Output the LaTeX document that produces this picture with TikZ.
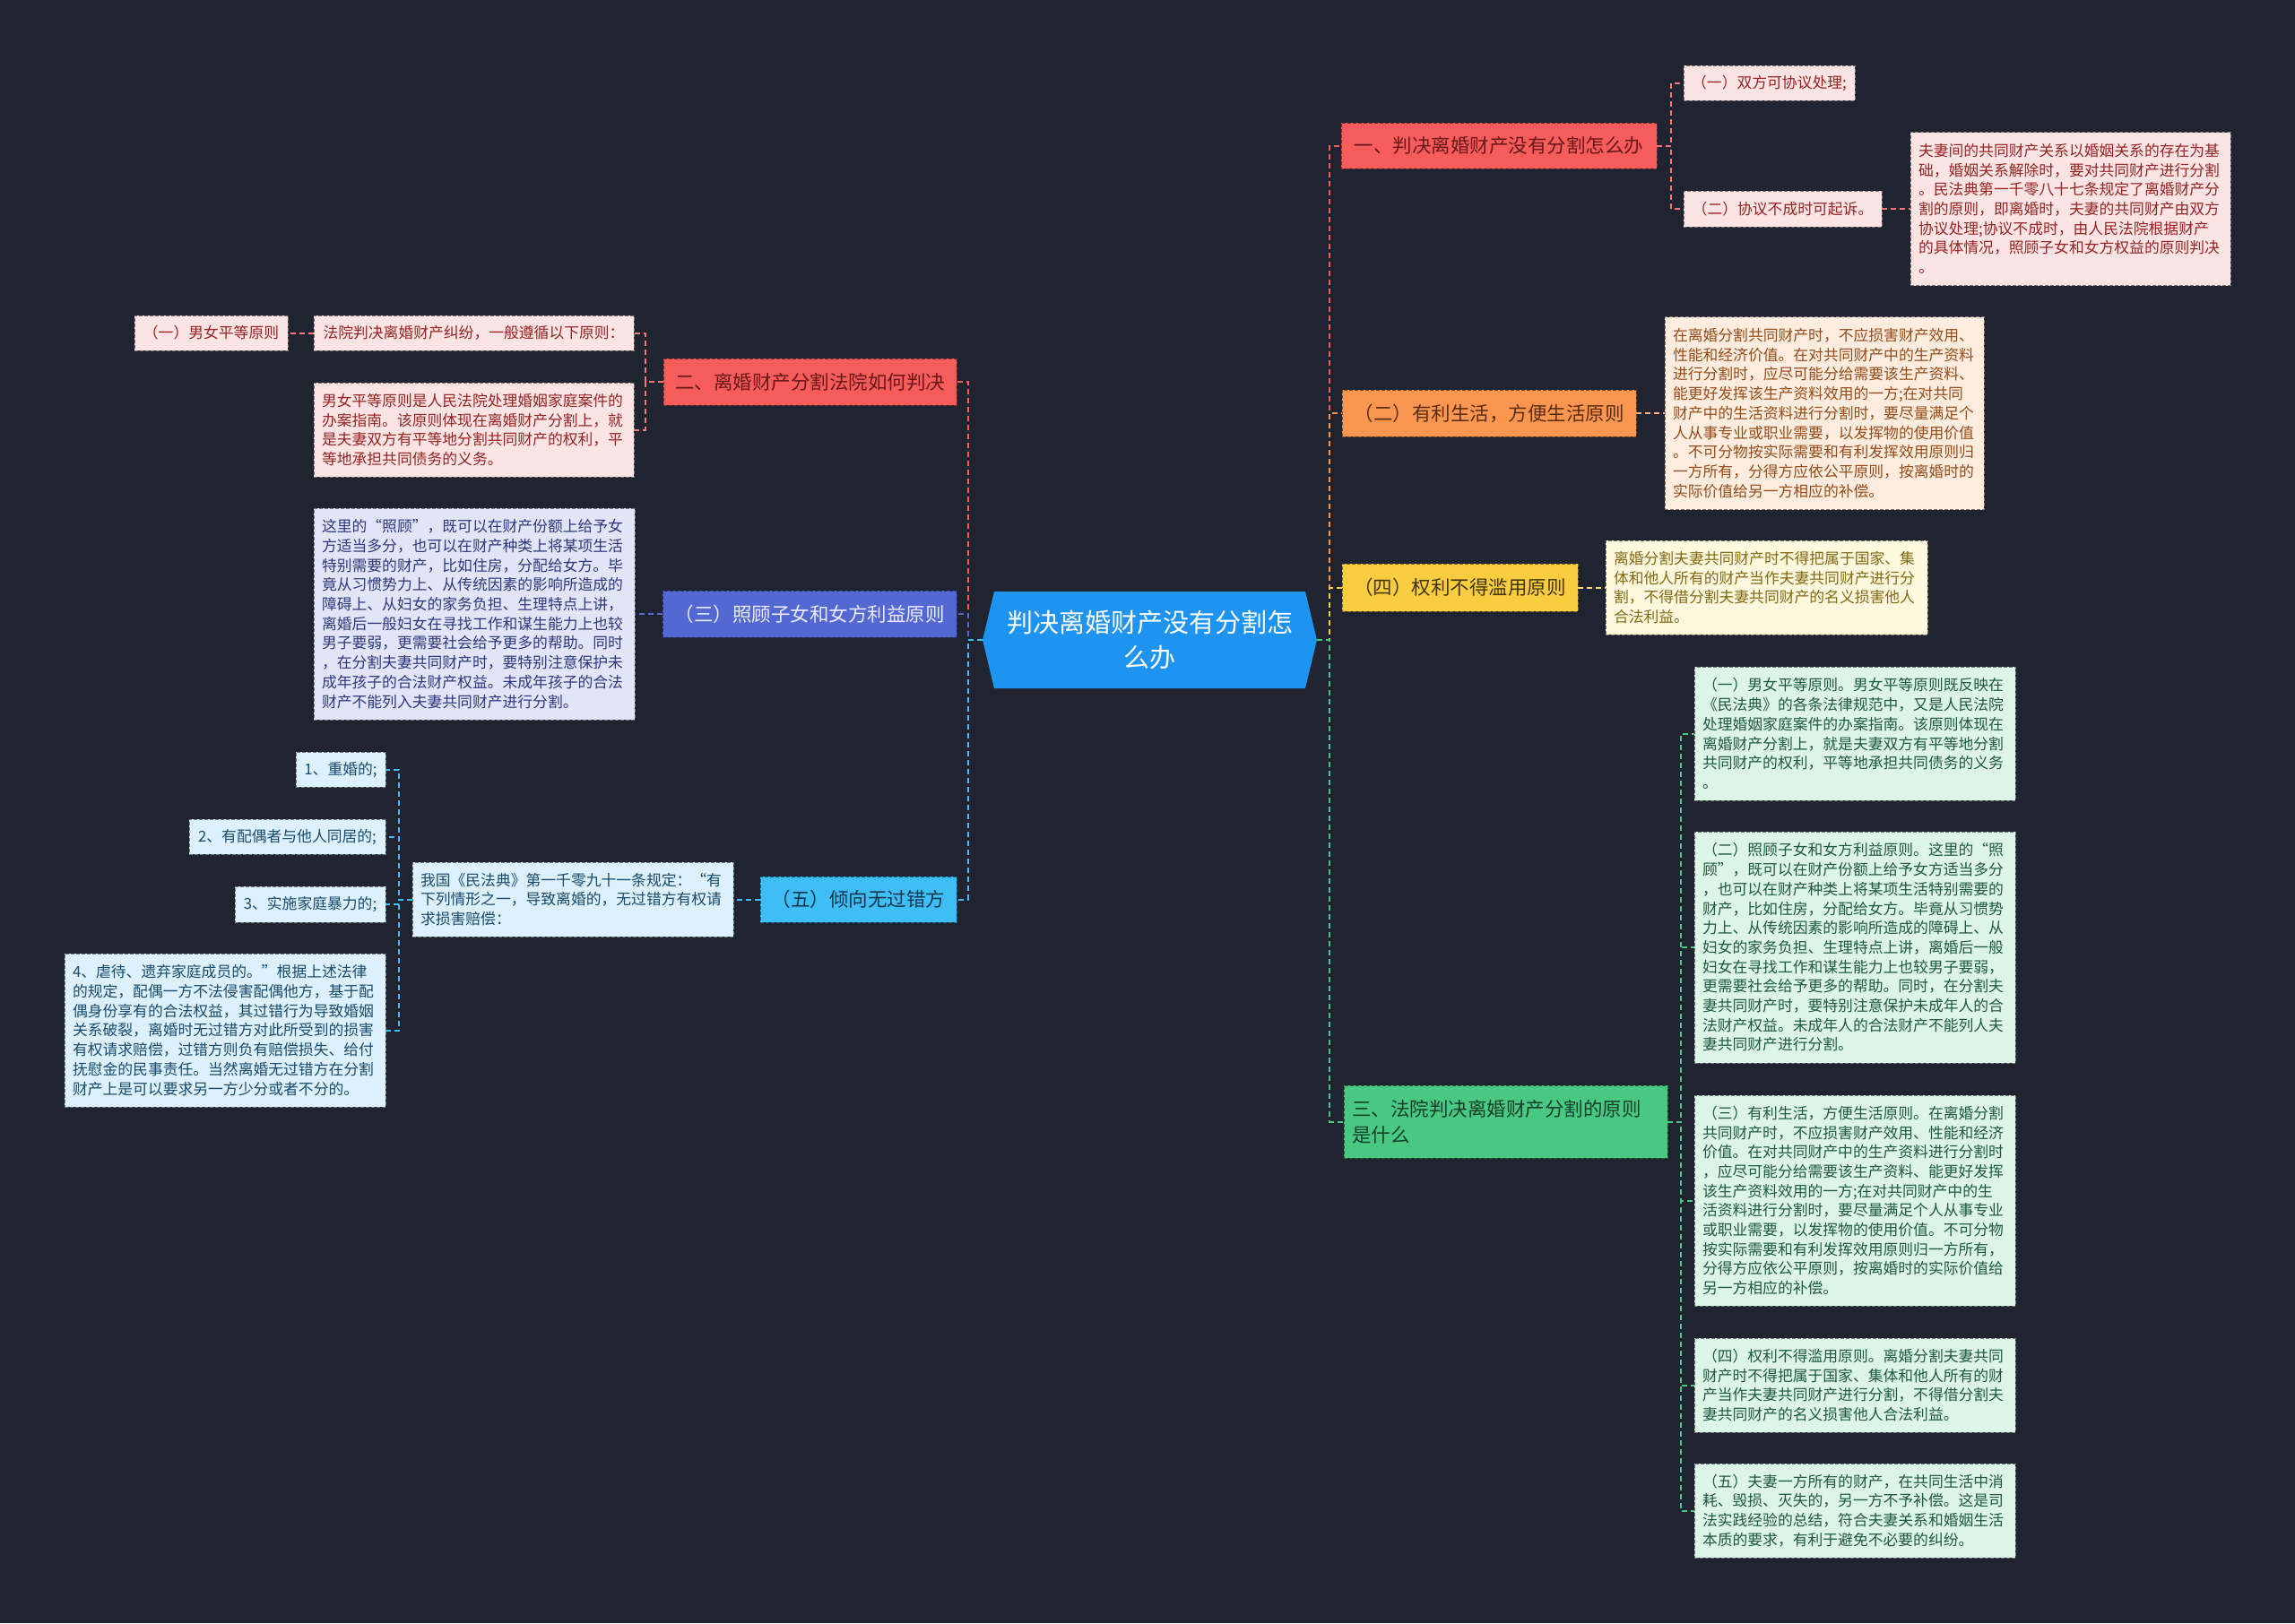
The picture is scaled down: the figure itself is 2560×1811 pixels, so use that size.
\documentclass[tikz,border=0pt]{standalone}
\usepackage{fontspec}
\setmainfont{Noto Sans CJK SC}
\usetikzlibrary{shapes.symbols}

\definecolor{bgdark}{RGB}{32,36,48}
\definecolor{rootblue}{RGB}{30,148,240}
\definecolor{tred}{RGB}{246,92,92}
\definecolor{torange}{RGB}{250,150,80}
\definecolor{tyellow}{RGB}{250,205,65}
\definecolor{tgreen}{RGB}{72,200,130}
\definecolor{tblue}{RGB}{84,104,212}
\definecolor{tcyan}{RGB}{62,190,245}
\definecolor{lpink}{RGB}{253,228,228}
\definecolor{lpeach}{RGB}{254,236,222}
\definecolor{lcream}{RGB}{254,248,222}
\definecolor{lmint}{RGB}{221,244,232}
\definecolor{llav}{RGB}{226,229,248}
\definecolor{lcyan}{RGB}{220,241,251}
\definecolor{xred}{RGB}{150,35,35}
\definecolor{xbrown}{RGB}{150,75,25}
\definecolor{xolive}{RGB}{130,105,20}
\definecolor{xgreen}{RGB}{30,90,60}
\definecolor{xnavy}{RGB}{45,55,125}
\definecolor{xsea}{RGB}{25,75,110}

\tikzset{
  nodebox/.style={draw, dash pattern=on 2pt off 1pt, line width=0.4pt, inner xsep=4.5pt, inner ysep=3pt},
  leaf/.style 2 args={nodebox, fill=#1, draw=#1!50!black, text=#2, font=\fontsize{8.4}{10.85}\selectfont, align=left},
  topic/.style 2 args={nodebox, fill=#1, draw=#1!50!black, text=#2, font=\fontsize{10.75}{14.5}\selectfont, align=center},
  link/.style={draw=#1, line width=1pt, dash pattern=on 3pt off 2pt},
}

\begin{document}
\begin{tikzpicture}[x=0.5pt, y=-0.5pt]
  \useasboundingbox (0,0) rectangle (2560,1811);
  \fill[bgdark] (0,0) rectangle (2560,1811);

  % centre
  \node[shape=signal, signal to=west and east, signal pointer angle=153, fill=rootblue, text=white,
        font=\fontsize{14.5}{19.5}\selectfont, align=center, text width=162pt, inner xsep=5.75pt,
        minimum height=54pt] (root) at (1282.5,714) {判决离婚财产没有分割怎\\么办};

  % right side
  \node[topic={tred}{xred!70!black}, minimum width=176pt, minimum height=25.5pt] (r1) at (1672,162.5) {一、判决离婚财产没有分割怎么办};
  \node[leaf={lpink}{xred}, minimum width=95.5pt, minimum height=19.5pt] (r1a) at (1973.5,92.5) {（一）双方可协议处理;};
  \node[leaf={lpink}{xred}, minimum width=110.5pt, minimum height=20pt] (r1b) at (1988.5,233) {（二）协议不成时可起诉。};
  \node[leaf={lpink}{xred}, text width=169.5pt, minimum height=85.5pt] (r1c) at (2309.5,233) {夫妻间的共同财产关系以婚姻关系的存在为基\\础，婚姻关系解除时，要对共同财产进行分割\\。民法典第一千零八十七条规定了离婚财产分\\割的原则，即离婚时，夫妻的共同财产由双方\\协议处理;协议不成时，由人民法院根据财产\\的具体情况，照顾子女和女方权益的原则判决\\。};

  \node[topic={torange}{xbrown!60!black}, minimum width=164pt, minimum height=26pt] (r2) at (1661,461) {（二）有利生活，方便生活原则};
  \node[leaf={lpeach}{xbrown}, text width=169pt, minimum height=107.5pt] (r2a) at (2035,461) {在离婚分割共同财产时，不应损害财产效用、\\性能和经济价值。在对共同财产中的生产资料\\进行分割时，应尽可能分给需要该生产资料、\\能更好发挥该生产资料效用的一方;在对共同\\财产中的生活资料进行分割时，要尽量满足个\\人从事专业或职业需要，以发挥物的使用价值\\。不可分物按实际需要和有利发挥效用原则归\\一方所有，分得方应依公平原则，按离婚时的\\实际价值给另一方相应的补偿。};

  \node[topic={tyellow}{xolive!50!black}, minimum width=131.5pt, minimum height=26.5pt] (r3) at (1628.5,655.5) {（四）权利不得滥用原则};
  \node[leaf={lcream}{xolive}, text width=170.5pt, minimum height=52.5pt] (r3a) at (1970.5,655.5) {离婚分割夫妻共同财产时不得把属于国家、集\\体和他人所有的财产当作夫妻共同财产进行分\\割，不得借分割夫妻共同财产的名义损害他人\\合法利益。};

  \node[topic={tgreen}{xgreen!70!black}, align=left, text width=171.5pt, minimum height=40.5pt] (r4) at (1679.5,1251.5) {三、法院判决离婚财产分割的原则\\是什么};
  \node[leaf={lmint}{xgreen}, text width=170pt, minimum height=74.5pt] (r4a) at (2069,818.5) {（一）男女平等原则。男女平等原则既反映在\\《民法典》的各条法律规范中，又是人民法院\\处理婚姻家庭案件的办案指南。该原则体现在\\离婚财产分割上，就是夫妻双方有平等地分割\\共同财产的权利，平等地承担共同债务的义务\\。};
  \node[leaf={lmint}{xgreen}, text width=170pt, minimum height=129pt] (r4b) at (2069,1057) {（二）照顾子女和女方利益原则。这里的“照\\顾”，既可以在财产份额上给予女方适当多分\\，也可以在财产种类上将某项生活特别需要的\\财产，比如住房，分配给女方。毕竟从习惯势\\力上、从传统因素的影响所造成的障碍上、从\\妇女的家务负担、生理特点上讲，离婚后一般\\妇女在寻找工作和谋生能力上也较男子要弱，\\更需要社会给予更多的帮助。同时，在分割夫\\妻共同财产时，要特别注意保护未成年人的合\\法财产权益。未成年人的合法财产不能列人夫\\妻共同财产进行分割。};
  \node[leaf={lmint}{xgreen}, text width=170pt, minimum height=117.5pt] (r4c) at (2069,1339.5) {（三）有利生活，方便生活原则。在离婚分割\\共同财产时，不应损害财产效用、性能和经济\\价值。在对共同财产中的生产资料进行分割时\\，应尽可能分给需要该生产资料、能更好发挥\\该生产资料效用的一方;在对共同财产中的生\\活资料进行分割时，要尽量满足个人从事专业\\或职业需要，以发挥物的使用价值。不可分物\\按实际需要和有利发挥效用原则归一方所有，\\分得方应依公平原则，按离婚时的实际价值给\\另一方相应的补偿。};
  \node[leaf={lmint}{xgreen}, text width=170pt, minimum height=52.5pt] (r4d) at (2069,1545.5) {（四）权利不得滥用原则。离婚分割夫妻共同\\财产时不得把属于国家、集体和他人所有的财\\产当作夫妻共同财产进行分割，不得借分割夫\\妻共同财产的名义损害他人合法利益。};
  \node[leaf={lmint}{xgreen}, text width=170pt, minimum height=52.5pt] (r4e) at (2069,1685.5) {（五）夫妻一方所有的财产，在共同生活中消\\耗、毁损、灭失的，另一方不予补偿。这是司\\法实践经验的总结，符合夫妻关系和婚姻生活\\本质的要求，有利于避免不必要的纠纷。};

  % left side
  \node[topic={tred}{xred!70!black}, minimum width=163.5pt, minimum height=26pt] (l1) at (903.5,426) {二、离婚财产分割法院如何判决};
  \node[leaf={lpink}{xred}, minimum width=178.5pt, minimum height=19.5pt] (l1a) at (528.5,371.5) {法院判决离婚财产纠纷，一般遵循以下原则：};
  \node[leaf={lpink}{xred}, minimum width=85.5pt, minimum height=19.5pt] (l1a0) at (235.5,371.5) {（一）男女平等原则};
  \node[leaf={lpink}{xred}, text width=169.5pt, minimum height=52.5pt] (l1b) at (528.5,479.5) {男女平等原则是人民法院处理婚姻家庭案件的\\办案指南。该原则体现在离婚财产分割上，就\\是夫妻双方有平等地分割共同财产的权利，平\\等地承担共同债务的义务。};

  \node[topic={tblue}{white!92!blue}, minimum width=164pt, minimum height=26pt] (l2) at (903,685) {（三）照顾子女和女方利益原则};
  \node[leaf={llav}{xnavy}, text width=170pt, minimum height=118pt] (l2a) at (529,685) {这里的“照顾”，既可以在财产份额上给予女\\方适当多分，也可以在财产种类上将某项生活\\特别需要的财产，比如住房，分配给女方。毕\\竟从习惯势力上、从传统因素的影响所造成的\\障碍上、从妇女的家务负担、生理特点上讲，\\离婚后一般妇女在寻找工作和谋生能力上也较\\男子要弱，更需要社会给予更多的帮助。同时\\，在分割夫妻共同财产时，要特别注意保护未\\成年孩子的合法财产权益。未成年孩子的合法\\财产不能列入夫妻共同财产进行分割。};

  \node[topic={tcyan}{xsea!70!black}, minimum width=109.5pt, minimum height=25.5pt] (l3) at (957.5,1003.5) {（五）倾向无过错方};
  \node[leaf={lcyan}{xsea}, text width=170pt, minimum height=41.5pt] (l3a) at (639,1003.5) {我国《民法典》第一千零九十一条规定：“有\\下列情形之一，导致离婚的，无过错方有权请\\求损害赔偿：};
  \node[leaf={lcyan}{xsea}, minimum width=50pt, minimum height=19.5pt] (l3a1) at (380,858.5) {1、重婚的;};
  \node[leaf={lcyan}{xsea}, minimum width=109.5pt, minimum height=19.5pt] (l3a2) at (320.5,933.5) {2、有配偶者与他人同居的;};
  \node[leaf={lcyan}{xsea}, minimum width=84pt, minimum height=20pt] (l3a3) at (346,1009) {3、实施家庭暴力的;};
  \node[leaf={lcyan}{xsea}, text width=170pt, minimum height=85.5pt] (l3a4) at (251,1149.5) {4、虐待、遗弃家庭成员的。”根据上述法律\\的规定，配偶一方不法侵害配偶他方，基于配\\偶身份享有的合法权益，其过错行为导致婚姻\\关系破裂，离婚时无过错方对此所受到的损害\\有权请求赔偿，过错方则负有赔偿损失、给付\\抚慰金的民事责任。当然离婚无过错方在分割\\财产上是可以要求另一方少分或者不分的。};

  % connectors
  \draw[link=tred] (root.east) -- ++(7pt,0) |- (r1.west);
  \draw[link=torange] (root.east) -- ++(7pt,0) |- (r2.west);
  \draw[link=tyellow] (root.east) -- ++(7pt,0) |- (r3.west);
  \draw[link=tgreen] (root.east) -- ++(7pt,0) |- (r4.west);
  \draw[link=tred] (root.west) -- ++(-8pt,0) |- (l1.east);
  \draw[link=tblue] (root.west) -- ++(-8pt,0) |- (l2.east);
  \draw[link=tcyan] (root.west) -- ++(-8pt,0) |- (l3.east);

  \foreach \k in {r1a,r1b} \draw[link=tred!80!lpink] (r1.east) -- ++(8pt,0) |- (\k.west);
  \draw[link=tred!80!lpink] (r1b.east) -- (r1c.west);
  \draw[link=torange!70!lpeach] (r2.east) -- (r2a.west);
  \draw[link=tyellow!70!lcream] (r3.east) -- (r3a.west);
  \foreach \k in {r4a,r4b,r4c,r4d,r4e} \draw[link=tgreen] (r4.east) -- ++(7.5pt,0) |- (\k.west);

  \foreach \k in {l1a,l1b} \draw[link=tred!80!lpink] (l1.west) -- ++(-10pt,0) |- (\k.east);
  \draw[link=tred!80!lpink] (l1a.west) -- (l1a0.east);
  \draw[link=tblue] (l2.west) -- (l2a.east);
  \draw[link=tcyan] (l3.west) -- (l3a.east);
  \foreach \k in {l3a1,l3a2,l3a3,l3a4} \draw[link=tcyan] (l3a.west) -- ++(-7.5pt,0) |- (\k.east);
\end{tikzpicture}
\end{document}
